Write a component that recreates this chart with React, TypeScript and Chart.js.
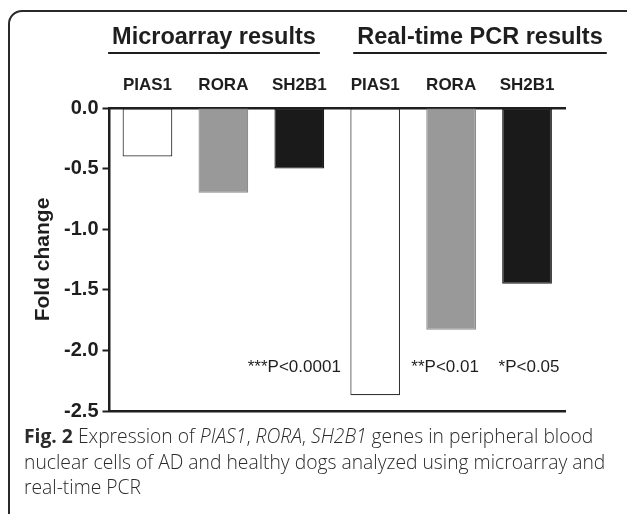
import React, { useEffect, useRef } from "react";
import { Chart, registerables } from "chart.js";

Chart.register(...registerables);

// ---- data ----
const categories = ["PIAS1", "RORA", "SH2B1", "PIAS1", "RORA", "SH2B1"];
const foldChange = [-0.4, -0.7, -0.5, -2.37, -1.83, -1.45];
const groupTitles = ["Microarray results", "Real-time PCR results"];
const pLabels = ["***P<0.0001", "**P<0.01", "*P<0.05"];
const pLabelBars = [2, 4, 5];
const pLabelValue = -2.14;
const yMin = -2.5;
const yMax = 0;
const yStep = 0.5;

// ---- styles ----
const FONT = "'Liberation Sans', Arial, Helvetica, sans-serif";
const INK = "#1e1e1e";
const barFills = ["#ffffff", "#999999", "#1a1a1a", "#ffffff", "#999999", "#1a1a1a"];
const barBorders = ["#333333", "#8a8a8a", "#1a1a1a", "#333333", "#8a8a8a", "#1a1a1a"];

// layout (pixels)
const headerCenters = [214, 480];
const headerY = 38;
const underlineY = 53;
const pLabelDx = [-5, -6, 2];

const overlayPlugin = {
  id: "overlay",
  afterDraw(chart: any) {
    const { ctx } = chart;
    const x = chart.scales.x;
    const y = chart.scales.y;
    ctx.save();
    // group headers with underline
    ctx.font = `bold 23.5px ${FONT}`;
    ctx.fillStyle = INK;
    ctx.strokeStyle = INK;
    ctx.textAlign = "center";
    ctx.textBaseline = "middle";
    groupTitles.forEach((t, i) => {
      const cx = headerCenters[i];
      ctx.fillText(t, cx, headerY);
      const w = ctx.measureText(t).width;
      ctx.lineWidth = 2;
      ctx.beginPath();
      ctx.moveTo(cx - w / 2 - 4, underlineY);
      ctx.lineTo(cx + w / 2 + 4, underlineY);
      ctx.stroke();
    });
    // p-value labels
    ctx.font = `17px ${FONT}`;
    ctx.fillStyle = INK;
    pLabels.forEach((t, i) => {
      const px = x.getPixelForValue(pLabelBars[i]) + pLabelDx[i];
      const py = y.getPixelForValue(pLabelValue);
      ctx.fillText(t, px, py);
    });
    ctx.restore();
  },
};

function BarChart() {
  const ref = useRef<HTMLCanvasElement | null>(null);
  useEffect(() => {
    if (!ref.current) return;
    const chart = new Chart(ref.current, {
      type: "bar",
      data: {
        labels: categories,
        datasets: [
          {
            data: foldChange,
            backgroundColor: barFills,
            borderColor: barBorders,
            borderWidth: 1.2,
            borderSkipped: false,
            barPercentage: 0.655,
            categoryPercentage: 1,
          },
        ],
      },
      options: {
        animation: false,
        responsive: false,
        maintainAspectRatio: false,
        events: [],
        layout: { padding: { top: 78, right: 62, bottom: 2, left: 0 } },
        plugins: {
          legend: { display: false },
          tooltip: { enabled: false },
          title: { display: false },
        },
        scales: {
          x: {
            type: "category",
            position: "top",
            offset: true,
            grid: { display: false, drawTicks: false },
            border: { display: true, width: 2.5, color: INK },
            ticks: {
              color: INK,
              font: { family: FONT, size: 17, weight: "bold" },
              padding: 12,
              maxRotation: 0,
              autoSkip: false,
            },
            afterFit(scale: any) {
              scale.height = 30;
            },
          },
          x2: {
            type: "category",
            position: "bottom",
            offset: true,
            grid: { display: false, drawTicks: false },
            border: { display: true, width: 2.5, color: INK },
            ticks: { display: false },
            afterFit(scale: any) {
              scale.height = 0;
            },
          },
          y: {
            min: yMin,
            max: yMax,
            grid: {
              display: true,
              drawOnChartArea: false,
              drawTicks: true,
              tickLength: 7,
              tickWidth: 2,
              tickColor: INK,
            },
            border: { display: true, width: 2.5, color: INK },
            ticks: {
              stepSize: yStep,
              color: INK,
              padding: 4,
              font: { family: FONT, size: 20, weight: "bold" },
              callback: (v: any) => Number(v).toFixed(1),
            },
            title: {
              display: true,
              text: "Fold change",
              color: INK,
              font: { family: FONT, size: 21, weight: "bold" },
              padding: { top: 31, bottom: 0 },
            },
            afterFit(scale: any) {
              scale.width = 109.5;
            },
          },
        },
      },
      plugins: [overlayPlugin],
    });
    return () => chart.destroy();
  }, []);
  return (
    <canvas
      ref={ref}
      width={627}
      height={427}
      style={{ position: "absolute", left: 0, top: 0, width: 627, height: 427 }}
    />
  );
}

export default function App() {
  useEffect(() => {
    document.body.style.margin = "0";
  }, []);
  return (
    <div
      style={{
        position: "fixed",
        left: 0,
        top: 0,
        width: 627,
        height: 514,
        overflow: "hidden",
        background: "#ffffff",
      }}
    >
      <div
        style={{
          position: "absolute",
          left: 8,
          top: 10,
          width: 700,
          height: 600,
          border: "2px solid #2a2a2a",
          borderTopLeftRadius: 14,
          boxSizing: "border-box",
        }}
      />
      <BarChart />
      <div
        style={{
          position: "absolute",
          left: 24,
          top: 423,
          fontFamily: "'Open Sans', 'Noto Sans', sans-serif",
          fontSize: 19.3,
          lineHeight: "25.5px",
          color: "#2b2b2b",
          fontWeight: 300,
          whiteSpace: "nowrap",
        }}
      >
        <span style={{ fontWeight: 700 }}>Fig. 2</span> Expression of <i>PIAS1</i>, <i>RORA</i>,{" "}
        <i>SH2B1</i> genes in peripheral blood
        <br />
        nuclear cells of AD and healthy dogs analyzed using microarray and
        <br />
        real-time PCR
      </div>
    </div>
  );
}
